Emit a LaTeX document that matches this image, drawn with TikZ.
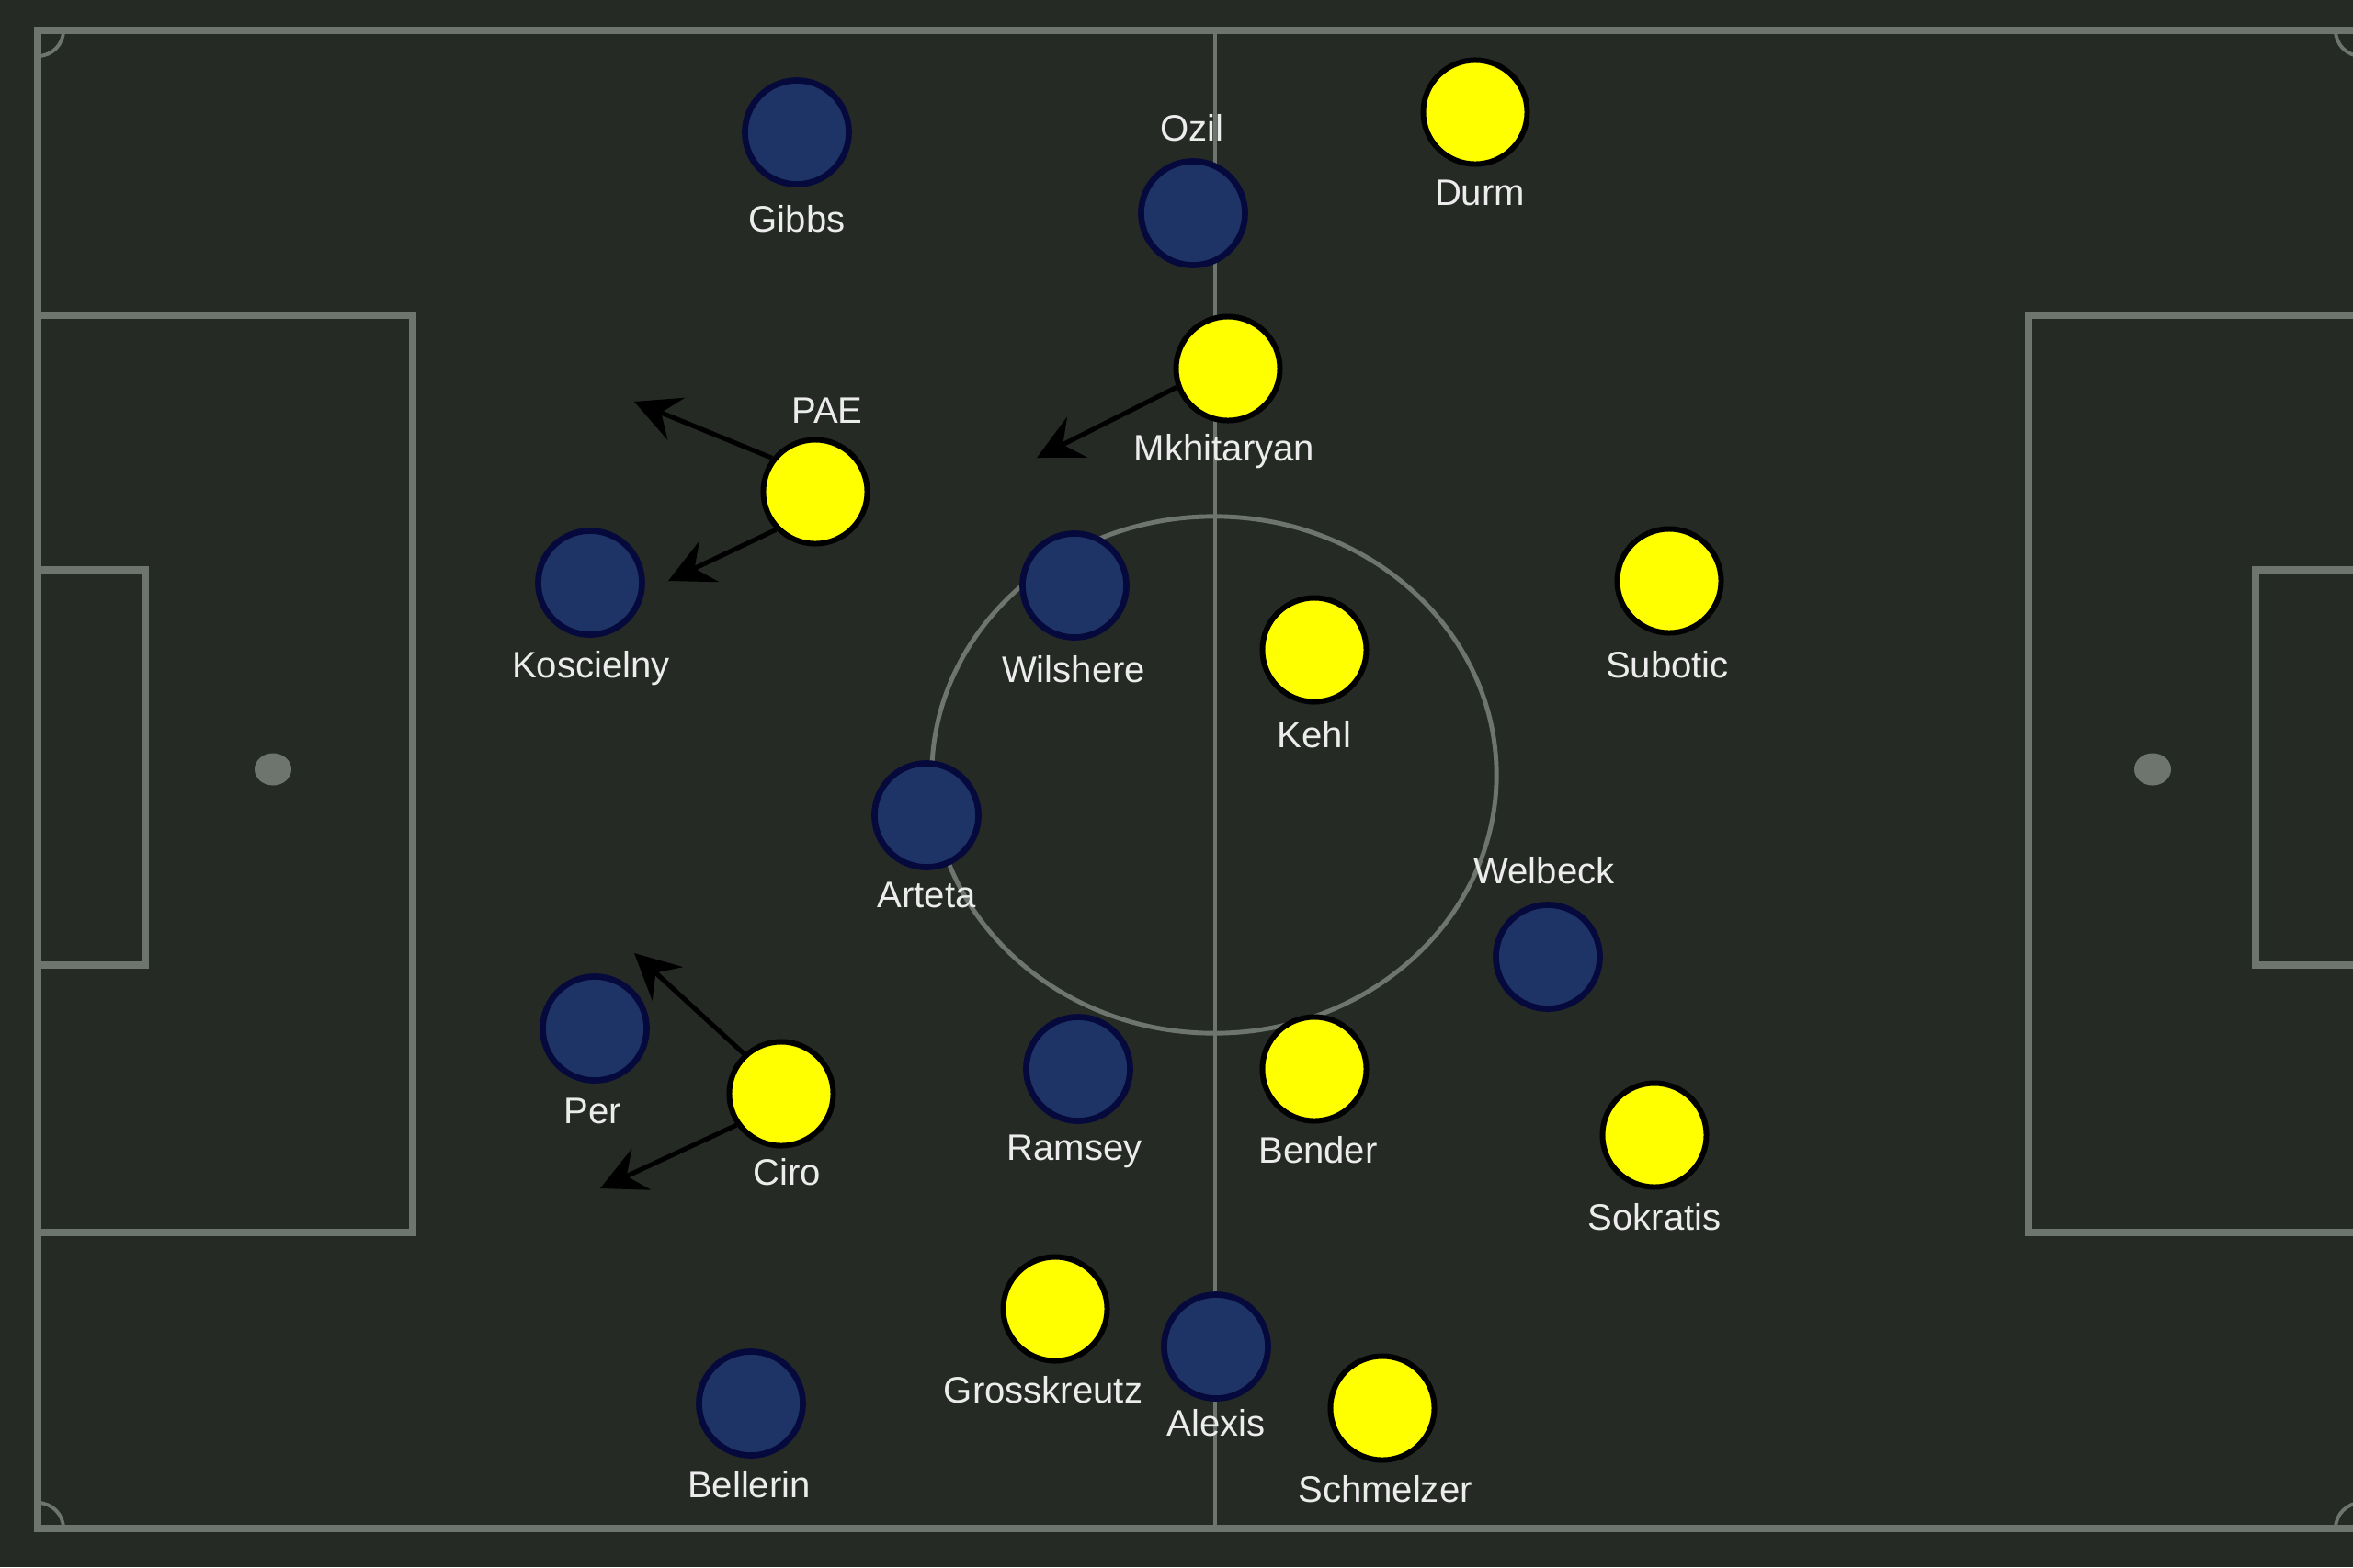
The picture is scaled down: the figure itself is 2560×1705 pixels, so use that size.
\documentclass[tikz,border=0pt]{standalone}
\usepackage{fontspec}
\setmainfont{Liberation Sans}
\usetikzlibrary{arrows.meta}
\definecolor{bg}{HTML}{252A24}
\definecolor{pline}{HTML}{6E756E}
\definecolor{navyfill}{HTML}{1F3466}
\definecolor{navyedge}{HTML}{06093C}
\definecolor{ylw}{HTML}{FFFF00}
\definecolor{lbl}{HTML}{ECECEC}
\begin{document}
\begin{tikzpicture}[x=0.01cm,y=-0.01cm,
  pitchline/.style={draw=pline, line width=2.28pt},
  thinline/.style={draw=pline, line width=1.1pt},
  arsenal/.style={circle, fill=navyfill, draw=navyedge, line width=1.9pt, minimum size=1.13cm, inner sep=0pt},
  bvb/.style={circle, fill=ylw, draw=black, line width=1.7pt, minimum size=1.13cm, inner sep=0pt},
  plabel/.style={text=lbl, font=\fontsize{11.4}{13}\selectfont, inner sep=0pt, text height=8pt, text depth=0pt},
  run/.style={draw=black, line width=1.45pt, -{Stealth[length=14pt,width=14pt,inset=5pt]}}
]
\fill[bg] (0,0) rectangle (2560,1705);
\useasboundingbox (0,0) rectangle (2560,1705);
\begin{scope}
  \clip (0,0) rectangle (2560,1705);
  % touchlines
  \draw[pitchline] (41,33) rectangle (2569,1663);
  % halfway line
  \draw[thinline] (1322,33) -- (1322,1663);
  % centre circle
  \draw[thinline, line width=1.4pt] (1321,843) ellipse[x radius=3.07cm, y radius=2.81cm];
  % penalty boxes
  \draw[pitchline] (41,343) rectangle (449,1341);
  \draw[pitchline] (41,620) rectangle (158,1050);
  \draw[pitchline] (2569,343) rectangle (2207,1341);
  \draw[pitchline] (2569,620) rectangle (2454,1050);
  % penalty spots
  \fill[pline] (297,837) ellipse[x radius=0.2cm, y radius=0.175cm];
  \fill[pline] (2342,837) ellipse[x radius=0.2cm, y radius=0.175cm];
  % corner arcs
  \begin{scope}
    \clip (41,33) rectangle (2569,1663);
    \draw[thinline] (41,33) circle[radius=0.28cm];
    \draw[thinline] (41,1663) circle[radius=0.28cm];
    \draw[thinline] (2569,33) circle[radius=0.28cm];
    \draw[thinline] (2569,1663) circle[radius=0.28cm];
  \end{scope}
\end{scope}

% Arsenal players
\node[arsenal] (gibbs) at (867,144) {};
\node[arsenal] (ozil) at (1298,232) {};
\node[arsenal] (koscielny) at (642,634) {};
\node[arsenal] (wilshere) at (1169,637) {};
\node[arsenal] (arteta) at (1008,887) {};
\node[arsenal] (welbeck) at (1684,1041) {};
\node[arsenal] (per) at (647,1119) {};
\node[arsenal] (ramsey) at (1173,1163) {};
\node[arsenal] (bellerin) at (817,1527) {};
\node[arsenal] (alexis) at (1323,1465) {};

% Dortmund players
\node[bvb] (durm) at (1605,122) {};
\node[bvb] (mkhitaryan) at (1336,401) {};
\node[bvb] (pae) at (887,535) {};
\node[bvb] (subotic) at (1816,632) {};
\node[bvb] (kehl) at (1430,707) {};
\node[bvb] (ciro) at (850,1190) {};
\node[bvb] (bender) at (1430,1163) {};
\node[bvb] (sokratis) at (1800,1235) {};
\node[bvb] (grosskreutz) at (1148,1424) {};
\node[bvb] (schmelzer) at (1504,1532) {};

% labels
\node[plabel] (gibbsL) at (867,238) {Gibbs};
\node[plabel] (ozilL) at (1297,139) {Ozil};
\node[plabel] (durmL) at (1610,209) {Durm};
\node[plabel] (mkhitaryanL) at (1332,487) {Mkhitaryan};
\node[plabel] (paeL) at (900,446) {PAE};
\node[plabel] (koscielnyL) at (643,723) {Koscielny};
\node[plabel] (wilshereL) at (1168,728) {Wilshere};
\node[plabel] (suboticL) at (1814,723) {Subotic};
\node[plabel] (kehlL) at (1430,799) {Kehl};
\node[plabel] (artetaL) at (1008,973) {Arteta};
\node[plabel] (welbeckL) at (1680,947) {Welbeck};
\node[plabel] (perL) at (645,1208) {Per};
\node[plabel] (ciroL) at (856,1275) {Ciro};
\node[plabel] (ramseyL) at (1169,1248) {Ramsey};
\node[plabel] (benderL) at (1434,1251) {Bender};
\node[plabel] (sokratisL) at (1800,1324) {Sokratis};
\node[plabel] (grosskreutzL) at (1135,1512) {Grosskreutz};
\node[plabel] (alexisL) at (1323,1548) {Alexis};
\node[plabel] (bellerinL) at (815,1615) {Bellerin};
\node[plabel] (schmelzerL) at (1507,1620) {Schmelzer};

% runs
\coordinate (paeUp) at (690,437);
\coordinate (paeDown) at (727,632);
\coordinate (mkhTip) at (1128,498);
\coordinate (ciroUp) at (690,1037);
\coordinate (ciroDown) at (653,1293);
\draw[run] (pae.142) -- (paeUp);
\draw[run] (pae.224) -- (paeDown);
\draw[run] (mkhitaryan.200) -- (mkhTip);
\draw[run] (ciro.133) -- (ciroUp);
\draw[run] (ciro.215) -- (ciroDown);
\end{tikzpicture}
\end{document}
